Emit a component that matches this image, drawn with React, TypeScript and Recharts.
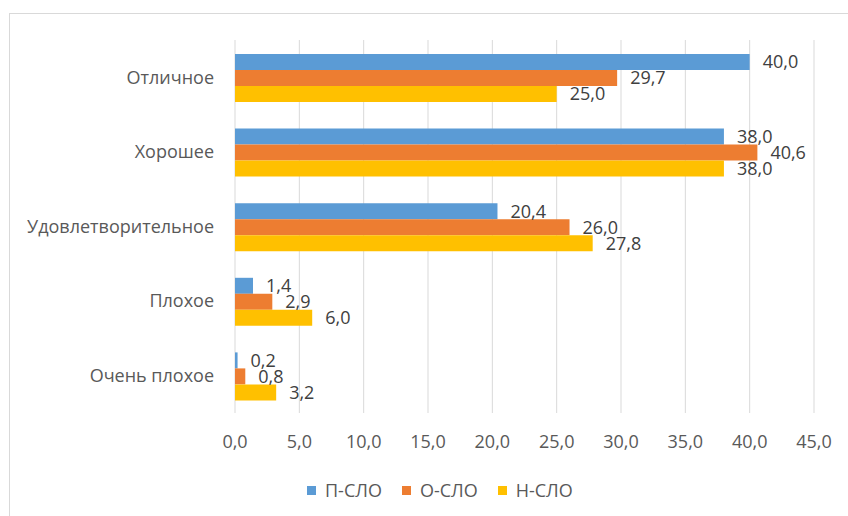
import { Bar, BarChart, CartesianGrid, LabelList, Legend, XAxis, YAxis } from 'recharts';

const categories = ['Отличное', 'Хорошее', 'Удовлетворительное', 'Плохое', 'Очень плохое'];
const pSlo = [40.0, 38.0, 20.4, 1.4, 0.2];
const oSlo = [29.7, 40.6, 26.0, 2.9, 0.8];
const nSlo = [25.0, 38.0, 27.8, 6.0, 3.2];
const xTicks = [0, 5, 10, 15, 20, 25, 30, 35, 40, 45];

const series = [
  { key: 'p', name: 'П-СЛО', color: '#5B9BD5' },
  { key: 'o', name: 'О-СЛО', color: '#ED7D31' },
  { key: 'n', name: 'Н-СЛО', color: '#FFC000' },
];

const data = categories.map((name, i) => ({ name, p: pSlo[i], o: oSlo[i], n: nSlo[i] }));

const fmt = (v: number) => Number(v).toFixed(1).replace('.', ',');

const LegendContent = () => (
  <div style={{ display: 'flex', alignItems: 'center', fontSize: 18, color: '#595959', lineHeight: '20px' }}>
    {series.map((s) => (
      <div key={s.key} style={{ display: 'flex', alignItems: 'center', marginRight: 20 }}>
        <span style={{ width: 9, height: 9, background: s.color, marginRight: 9, display: 'inline-block' }} />
        <span>{s.name}</span>
      </div>
    ))}
  </div>
);

export default function App() {
  return (
    <div
      style={{
        position: 'absolute',
        left: 0,
        top: 0,
        width: 848,
        height: 516,
        overflow: 'hidden',
        background: '#fff',
        fontFamily: '"Open Sans", sans-serif',
      }}
    >
      <div
        style={{
          position: 'absolute',
          left: 9,
          top: 13,
          width: 860,
          height: 520,
          borderTop: '1px solid #d9d9d9',
          borderLeft: '1px solid #d9d9d9',
        }}
      />
      <BarChart
        width={848}
        height={516}
        data={data}
        layout="vertical"
        margin={{ top: 40, right: 34, bottom: 73, left: 0 }}
        barCategoryGap={14}
        barGap={0}
        style={{ position: 'absolute', left: 0, top: 0 }}
      >
        <CartesianGrid horizontal={false} stroke="#d9d9d9" />
        <XAxis
          type="number"
          domain={[0, 45]}
          ticks={xTicks}
          tickFormatter={fmt}
          axisLine={false}
          tickLine={false}
          tickMargin={16}
          height={30}
          tick={{ fontSize: 18, fill: '#595959' }}
        />
        <YAxis
          type="category"
          dataKey="name"
          width={235}
          axisLine={false}
          tickLine={false}
          tickMargin={15}
          tick={{ fontSize: 18, fill: '#595959' }}
        />
        <Legend
          verticalAlign="middle"
          align="center"
          content={<LegendContent />}
          wrapperStyle={{ left: 307, top: 480, width: 400 }}
        />
        {series.map((s) => (
          <Bar key={s.key} dataKey={s.key} name={s.name} fill={s.color} isAnimationActive={false}>
            <LabelList dataKey={s.key} position="right" offset={13} formatter={fmt} fill="#404040" fontSize={18} />
          </Bar>
        ))}
      </BarChart>
    </div>
  );
}
